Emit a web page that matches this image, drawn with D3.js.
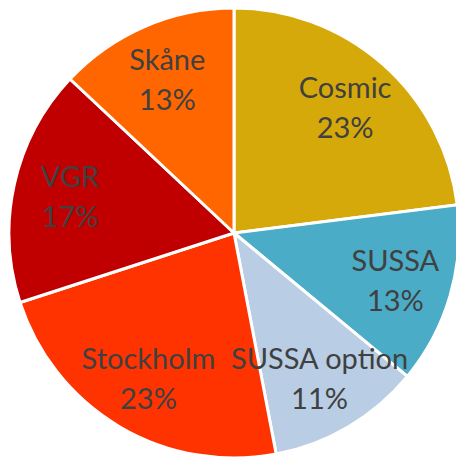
<!DOCTYPE html>
<html>
<head>
<meta charset="utf-8">
<script src="https://cdn.jsdelivr.net/npm/d3@7"></script>
<style>
  body { margin: 0; background: #fff; }
</style>
</head>
<body>
<div id="chart"></div>
<script>
var w = 456;
var h = 459;

// slice data, clockwise from 12 o'clock
var names = ["Cosmic", "SUSSA", "SUSSA option", "Stockholm", "VGR", "Skåne"];
var shares = [23, 13, 11, 23, 17, 13];
var colors = ["#D5A90A", "#4AACC6", "#B9CDE5", "#FF3300", "#C00000", "#FF6600"];

var cx = 234, cy = 233, r = 225;
var labelR = 168;

var svg = d3.select("#chart")
  .append("svg")
  .attr("width", w)
  .attr("height", h);

var g = svg.append("g")
  .attr("transform", "translate(" + cx + "," + cy + ")");

var pie = d3.pie().sort(null).value(function(d) { return d; });
var arcs = pie(shares);

var arc = d3.arc().innerRadius(0).outerRadius(r);
var labelArc = d3.arc().innerRadius(labelR).outerRadius(labelR);

g.selectAll("path")
  .data(arcs)
  .enter()
  .append("path")
  .attr("d", arc)
  .attr("fill", function(d, i) { return colors[i]; })
  .attr("stroke", "#fff")
  .attr("stroke-width", 3)
  .attr("stroke-linejoin", "round");

var t = g.selectAll("text")
  .data(arcs)
  .enter()
  .append("text")
  .attr("transform", function(d) {
    return "translate(" + labelArc.centroid(d) + ")";
  })
  .attr("text-anchor", "middle")
  .attr("font-family", "Lato, sans-serif")
  .attr("font-size", "29px")
  .attr("fill", "#404040");

t.append("tspan")
  .attr("x", 0)
  .attr("dy", -9)
  .text(function(d, i) { return names[i]; });

t.append("tspan")
  .attr("x", 0)
  .attr("dy", 40)
  .text(function(d) { return d.value + "%"; });
</script>
</body>
</html>
